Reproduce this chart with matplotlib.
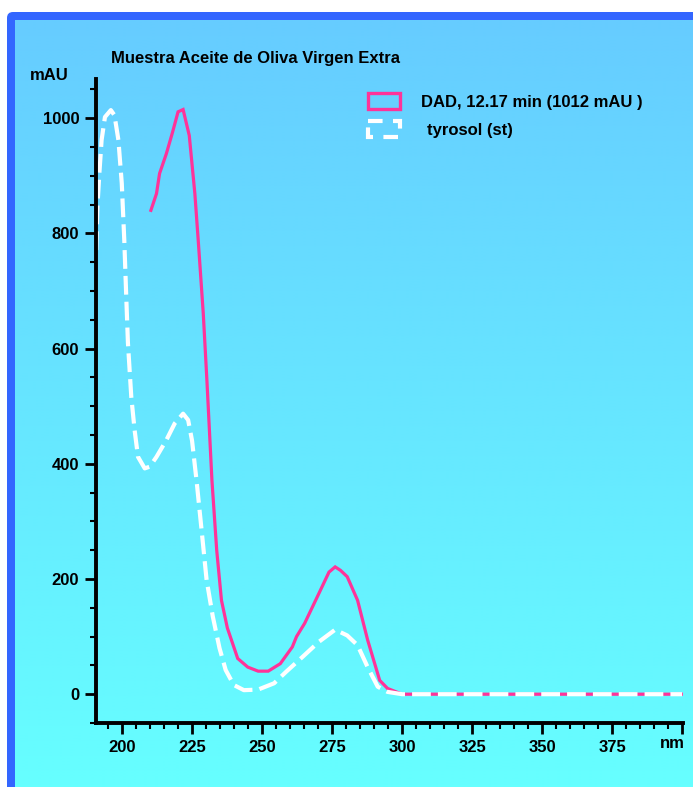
import numpy as np
import matplotlib
matplotlib.use("Agg")
import matplotlib.pyplot as plt
from matplotlib.patches import FancyBboxPatch, Rectangle
from matplotlib.ticker import MultipleLocator, FixedLocator

plt.rcParams['font.family'] = ['Liberation Sans', 'DejaVu Sans']
plt.rcParams['font.weight'] = 'bold'

# DAD spectrum of the sample peak (12.17 min)
dad_nm = [210.3, 212.3, 213.4, 215.8, 218.0, 220.0, 221.8, 224.0, 226.0, 227.2,
          229.0, 230.3, 232.1, 233.8, 235.5, 237.6, 241.3, 244.9, 248.6, 252.2,
          256.5, 260.8, 262.3, 265.2, 270.3, 273.9, 276.1, 278.0, 280.4, 284.1,
          287.7, 292.0, 294.8, 300.0, 400.0]
dad_mau = [840, 869, 904, 938, 975, 1011, 1015, 970, 869, 788,
           661, 545, 371, 250, 163, 115, 62, 47, 40, 40,
           53, 82, 100, 123, 175, 212, 221, 215, 204, 163,
           94, 24, 10, 0, 0]

# tyrosol standard spectrum
tyr_nm = [190.8, 191.2, 191.9, 192.7, 193.9, 196.0, 197.3, 198.7, 199.9, 200.8,
          201.5, 202.1, 203.3, 204.5, 205.7, 208.1, 209.9, 212.3, 215.8, 218.8,
          221.8, 223.6, 225.0, 226.6, 228.4, 230.2, 232.4, 234.8, 237.0, 239.9,
          243.5, 248.6, 254.3, 258.6, 264.5, 270.3, 276.1, 280.4, 284.1, 287.7,
          291.3, 294.8, 300.0, 400.0]
tyr_mau = [771, 846, 904, 962, 1002, 1014, 1005, 962, 887, 788,
           690, 610, 516, 458, 412, 392, 395, 412, 441, 470,
           487, 476, 440, 371, 285, 198, 135, 80, 42, 16,
           7, 8, 19, 39, 65, 91, 112, 102, 85, 47,
           13, 4, 0, 0]

x_major = [200, 225, 250, 275, 300, 325, 350, 375, 400]
x_labels = ['200', '225', '250', '275', '300', '325', '350', '375', '']
y_major = [0, 200, 400, 600, 800, 1000]

W, H = 693, 787
FS = 12
fig = plt.figure(figsize=(W / 100, H / 100), dpi=100)

# background panel: blue frame + vertical gradient
bg = fig.add_axes([0, 0, 1, 1])
frame = FancyBboxPatch((7, 12), 720, 820, boxstyle="round,pad=0,rounding_size=6",
                       facecolor="#3366FF", edgecolor="none", zorder=0)
bg.add_patch(frame)
grad = np.linspace(0, 1, 256).reshape(-1, 1)
top = np.array([0x66, 0xCC, 0xFF]) / 255
bot = np.array([0x66, 0xFF, 0xFF]) / 255
img = top + grad[..., None] * (bot - top)
bg.imshow(img, extent=(15, W, H, 20), aspect='auto', interpolation='bilinear', zorder=1)
bg.set_xlim(0, W)
bg.set_ylim(H, 0)
bg.axis('off')

# legend drawn by hand like the original
bg.add_patch(Rectangle((368, 93), 32, 16, facecolor='none', edgecolor='#FF3399', lw=2.4,
                       zorder=3))
bg.add_patch(Rectangle((368, 121), 32, 16, facecolor='none', edgecolor='white', lw=3,
                       linestyle=(0, (3.5, 2.5)), zorder=3))
bg.text(421, 102, 'DAD, 12.17 min (1012 mAU )', fontsize=FS, fontweight='bold',
        ha='left', va='center', zorder=3)
bg.text(427, 130, 'tyrosol (st)', fontsize=FS, fontweight='bold', ha='left', va='center',
        zorder=3)

# main axes
ax = fig.add_axes([96 / W, 1 - 723 / H, 587 / W, (723 - 79) / H])
ax.patch.set_alpha(0)
ax.plot(dad_nm, dad_mau, color='#FF3399', lw=2.3, solid_joinstyle='miter')
ax.plot(tyr_nm, tyr_mau, color='white', lw=3.0, linestyle=(0, (4.5, 1.7)))
ax.set_xlim(190.7, 400.3)
ax.set_ylim(-50, 1068)

for s in ['top', 'right']:
    ax.spines[s].set_visible(False)
for s in ['left', 'bottom']:
    ax.spines[s].set_linewidth(2.8)

ax.xaxis.set_major_locator(FixedLocator(x_major))
ax.set_xticklabels(x_labels)
ax.xaxis.set_minor_locator(MultipleLocator(5))
ax.yaxis.set_major_locator(FixedLocator(y_major))
ax.yaxis.set_minor_locator(MultipleLocator(50))
ax.tick_params(which='major', length=8, width=2, labelsize=FS, pad=4)
ax.tick_params(which='minor', length=4, width=1.5)
for lab in ax.get_xticklabels() + ax.get_yticklabels():
    lab.set_fontweight('bold')

fig.text(111 / W, 1 - 58 / H, 'Muestra Aceite de Oliva Virgen Extra', fontsize=FS,
         fontweight='bold', ha='left', va='center')
fig.text(49 / W, 1 - 75 / H, 'mAU', fontsize=FS, fontweight='bold', ha='center', va='center')
fig.text(672 / W, 1 - 743 / H, 'nm', fontsize=FS, fontweight='bold', ha='center', va='center')

fig.savefig('out.png', dpi=100)
